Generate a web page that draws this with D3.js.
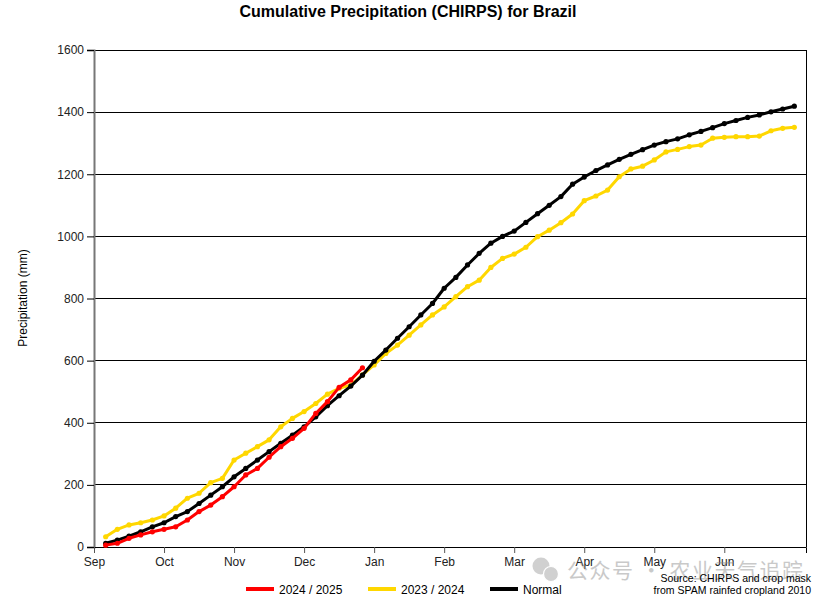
<!DOCTYPE html>
<html><head><meta charset="utf-8">
<script src="https://cdn.jsdelivr.net/npm/d3@7"></script>
<style>body{margin:0;background:#fff;font-family:Arial,"Liberation Sans",sans-serif;}</style>
</head><body><svg id="c" width="821" height="603"></svg>
<script>
const months = ["Sep","Oct","Nov","Dec","Jan","Feb","Mar","Apr","May","Jun"];
const yTicks = [0,200,400,600,800,1000,1200,1400,1600];
// pentad cumulative values (mm), pentad 1 = Sep 1-5
const current = [6,12,28,39,49,57,65,87,114,135,162,194,232,253,289,323,350,382,430,468,514,538,577];
const lastYear = [33,57,71,78,87,100,125,157,173,207,221,280,302,323,345,387,414,436,462,492,511,521,554,586,623,650,682,715,747,773,806,838,859,900,929,943,965,999,1020,1044,1072,1115,1130,1149,1192,1217,1226,1246,1272,1280,1289,1294,1316,1319,1321,1321,1323,1340,1348,1351];
const normal = [12,22,35,49,65,78,98,114,140,167,194,226,253,280,307,334,360,387,419,455,487,518,553,598,634,672,709,747,784,833,868,908,945,978,1000,1017,1045,1073,1100,1128,1168,1191,1212,1230,1248,1264,1279,1294,1305,1314,1327,1338,1350,1363,1373,1383,1391,1401,1410,1419];
const seriesNames = ["2024 / 2025","2023 / 2024","Normal"];
const seriesColors = ["#ff0000","#ffd700","#000000"];

const svg = d3.select("#c");
const L=94,R=806,T=50,B=547;
const x = d3.scaleLinear().domain([0,61]).range([L,R]);
const y = d3.scaleLinear().domain([0,1600]).range([B,T]);

svg.append("text").attr("x",408).attr("y",17).attr("text-anchor","middle")
  .attr("font-size",16).attr("font-weight","bold").attr("fill","#000")
  .text("Cumulative Precipitation (CHIRPS) for Brazil");

// gridlines
svg.append("g").selectAll("line").data(yTicks).join("line")
  .attr("x1",L).attr("x2",R).attr("y1",d=>y(d)).attr("y2",d=>y(d))
  .attr("stroke","#000").attr("stroke-width",1).attr("shape-rendering","crispEdges");
// right border
svg.append("line").attr("x1",R).attr("x2",R).attr("y1",T).attr("y2",B).attr("stroke","#000").attr("shape-rendering","crispEdges");

// y axis
const ya = svg.append("g").attr("transform",`translate(${L},0)`)
  .call(d3.axisLeft(y).tickValues(yTicks).tickFormat(d3.format("d")).tickSize(7).tickPadding(3));
ya.select(".domain").attr("stroke","#777").attr("stroke-width",2);
ya.selectAll(".tick line").attr("stroke","#000");
ya.selectAll("text").attr("font-size",12).attr("font-family","Arial,'Liberation Sans',sans-serif").attr("fill","#222");

// x axis
const xa = svg.append("g").attr("transform",`translate(0,${B})`)
  .call(d3.axisBottom(x).tickValues(months.map((m,i)=>i*6)).tickFormat((d,i)=>months[i]).tickSize(6).tickPadding(4));
xa.select(".domain").attr("stroke","#000");
xa.selectAll(".tick line").attr("stroke","#555");
xa.selectAll("text").attr("font-size",12).attr("font-family","Arial,'Liberation Sans',sans-serif").attr("fill","#222");

svg.append("text").attr("transform","translate(27,298) rotate(-90)").attr("text-anchor","middle")
  .attr("font-size",12).attr("fill","#000").text("Precipitation (mm)");

const line = d3.line().x((d,i)=>x(i+1)).y(d=>y(d));
const data = [current,lastYear,normal];
[1,2,0].forEach(k=>{
  const g = svg.append("g");
  g.append("path").attr("d",line(data[k])).attr("fill","none").attr("stroke",seriesColors[k]).attr("stroke-width",3).attr("stroke-linejoin","round");
  g.selectAll("circle").data(data[k]).join("circle").attr("cx",(d,i)=>x(i+1)).attr("cy",d=>y(d)).attr("r",2.6).attr("fill",seriesColors[k]);
});

// legend
const lx=[246,368,490];
seriesNames.forEach((n,k)=>{
  svg.append("line").attr("x1",lx[k]).attr("x2",lx[k]+28).attr("y1",589).attr("y2",589).attr("stroke",seriesColors[k]).attr("stroke-width",4);
  svg.append("circle").attr("cx",lx[k]+14).attr("cy",589).attr("r",2).attr("fill",seriesColors[k]);
  svg.append("text").attr("x",lx[k]+33).attr("y",593.5).attr("font-size",12).attr("fill","#000").text(n);
});

// watermark
const wm = svg.append("g").attr("opacity",0.45);
wm.append("circle").attr("cx",541).attr("cy",566).attr("r",8.5).attr("fill","#999");
wm.append("circle").attr("cx",551).attr("cy",574).attr("r",7.5).attr("fill","#999").attr("stroke","#fff").attr("stroke-width",1.2);
wm.append("text").attr("x",567).attr("y",578).attr("font-size",21).attr("letter-spacing",1.5).attr("fill","#888")
  .attr("font-family","'Noto Sans CJK SC',sans-serif").text("公众号 · 农业天气追踪");

// source
svg.append("text").attr("x",811).attr("y",582).attr("text-anchor","end").attr("font-size",10.5).attr("fill","#000").text("Source: CHIRPS and crop mask");
svg.append("text").attr("x",811).attr("y",594).attr("text-anchor","end").attr("font-size",10.5).attr("fill","#000").text("from SPAM rainfed cropland 2010");
</script></body></html>
